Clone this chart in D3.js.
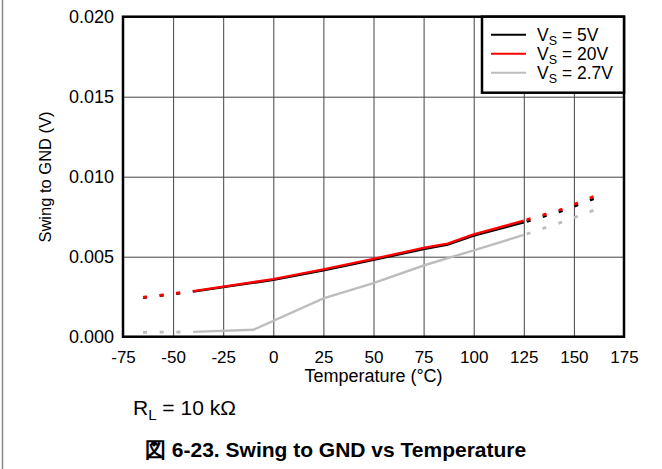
<!DOCTYPE html>
<html>
<head>
<meta charset="utf-8">
<script src="https://cdn.jsdelivr.net/npm/d3@7"></script>
<style>
  body { margin: 0; background: #fff; }
  svg { display: block; font-family: Arial, "Liberation Sans", sans-serif; }
</style>
</head>
<body>
<div id="chart"></div>
<script>
// ---- data ----
const xTicks = [-75, -50, -25, 0, 25, 50, 75, 100, 125, 150, 175];
const yTicks = [0.000, 0.005, 0.010, 0.015, 0.020];

// solid part of each curve (temperature, volts)
const temp5V   = [-40, -25, 0, 25, 50, 75, 87, 100, 125];
const swing5V  = [0.00282, 0.00310, 0.00355, 0.00415, 0.00480, 0.00548, 0.00575, 0.00632, 0.00715];
const temp20V  = [-40, -25, 0, 25, 50, 75, 87, 100, 125];
const swing20V = [0.00285, 0.00313, 0.00360, 0.00421, 0.00486, 0.00555, 0.00582, 0.00640, 0.00725];
const temp27V  = [-40, -10, 25, 50, 75, 100, 125];
const swing27V = [0.00030, 0.00043, 0.00240, 0.00335, 0.00445, 0.00540, 0.00636];

// dotted extrapolation at both ends
const dotTempLo   = [-65, -40];
const dotTempHi   = [125, 145, 162];
const dot5VLo     = [0.00245, 0.00282];
const dot5VHi     = [0.00715, 0.00790, 0.00872];
const dot20VLo    = [0.00246, 0.00285];
const dot20VHi    = [0.00725, 0.00800, 0.00888];
const dot27VLo    = [0.00027, 0.00030];
const dot27VHi    = [0.00636, 0.00720, 0.00800];

const seriesNames  = ['5V', '20V', '2.7V'];
const seriesColors = ['#000000', '#ff0000', '#bdbdbd'];

document.addEventListener('DOMContentLoaded', function() {
    const W = 662, H = 469;
    const left = 123, right = 624, top = 16.7, bottom = 336.7;

    const svg = d3.select('#chart').append('svg')
        .attr('width', W)
        .attr('height', H);

    svg.append('rect').attr('width', W).attr('height', H).attr('fill', '#fff');

    // page frame line on the left
    svg.append('line')
        .attr('x1', 2.5).attr('x2', 2.5).attr('y1', 0).attr('y2', H)
        .attr('stroke', '#888').attr('stroke-width', 1.5);

    const x = d3.scaleLinear().domain([-75, 175]).range([left, right]);
    const y = d3.scaleLinear().domain([0, 0.020]).range([bottom, top]);

    // grid
    const grid = svg.append('g');
    grid.append('g')
        .attr('transform', `translate(0,${bottom})`)
        .call(d3.axisBottom(x).tickValues(xTicks).tickSize(-(bottom - top)).tickFormat(''))
        .call(g => g.select('.domain').remove())
        .call(g => g.selectAll('line').attr('stroke', '#444').attr('stroke-width', 1));
    grid.append('g')
        .attr('transform', `translate(${left},0)`)
        .call(d3.axisLeft(y).tickValues(yTicks).tickSize(-(right - left)).tickFormat(''))
        .call(g => g.select('.domain').remove())
        .call(g => g.selectAll('line').attr('stroke', '#444').attr('stroke-width', 1));

    // tick labels (plain hyphen for negatives, as in the reference)
    const xAxis = svg.append('g')
        .attr('transform', `translate(0,${bottom})`)
        .call(d3.axisBottom(x).tickValues(xTicks).tickSize(0).tickPadding(14).tickFormat(d => String(d)));
    xAxis.select('.domain').remove();
    xAxis.selectAll('text').attr('font-size', 17).attr('font-family', 'Arial, "Liberation Sans", sans-serif').attr('fill', '#000');

    const yAxis = svg.append('g')
        .attr('transform', `translate(${left},0)`)
        .call(d3.axisLeft(y).tickValues(yTicks).tickSize(0).tickPadding(9).tickFormat(d3.format('.3f')));
    yAxis.select('.domain').remove();
    yAxis.selectAll('text').attr('font-size', 18).attr('font-family', 'Arial, "Liberation Sans", sans-serif').attr('fill', '#000');

    // curves
    const line = d3.line().x(d => x(d[0])).y(d => y(d[1]));
    const solid = [d3.zip(temp5V, swing5V), d3.zip(temp20V, swing20V), d3.zip(temp27V, swing27V)];
    const dotLo = [d3.zip(dotTempLo, dot5VLo), d3.zip(dotTempLo, dot20VLo), d3.zip(dotTempLo, dot27VLo)];
    const dotHi = [d3.zip(dotTempHi, dot5VHi), d3.zip(dotTempHi, dot20VHi), d3.zip(dotTempHi, dot27VHi)];

    // draw 2.7V first, then 5V, then 20V on top
    [2, 0, 1].forEach(i => {
        svg.append('path').attr('d', line(solid[i]))
            .attr('fill', 'none').attr('stroke', seriesColors[i]).attr('stroke-width', 2.4);
        svg.append('path').attr('d', line(dotLo[i]))
            .attr('fill', 'none').attr('stroke', seriesColors[i]).attr('stroke-width', 2.8)
            .attr('stroke-dasharray', '4,12.7');
        svg.append('path').attr('d', line(dotHi[i]))
            .attr('fill', 'none').attr('stroke', seriesColors[i]).attr('stroke-width', 2.8)
            .attr('stroke-dasharray', '4,12.7').attr('stroke-dashoffset', 13.7);
    });

    // plot frame
    svg.append('rect')
        .attr('x', left).attr('y', top)
        .attr('width', right - left).attr('height', bottom - top)
        .attr('fill', 'none').attr('stroke', '#000').attr('stroke-width', 2.5);

    // legend
    const lg = svg.append('g');
    lg.append('rect')
        .attr('x', 482).attr('y', top)
        .attr('width', right - 482).attr('height', 76)
        .attr('fill', '#fff').attr('stroke', '#000').attr('stroke-width', 2.5);
    seriesNames.forEach((name, i) => {
        const ly = 34.7 + i * 19;
        lg.append('line')
            .attr('x1', 491).attr('x2', 526).attr('y1', ly).attr('y2', ly)
            .attr('stroke', seriesColors[i]).attr('stroke-width', 2);
        const t = lg.append('text')
            .attr('x', 537).attr('y', ly + 6)
            .attr('font-size', 17.5).attr('fill', '#000');
        t.append('tspan').text('V');
        t.append('tspan').attr('font-size', 12.5).attr('dy', 4).text('S');
        t.append('tspan').attr('dy', -4).text(' = ' + name);
    });

    // axis titles
    svg.append('text')
        .attr('x', (left + right) / 2).attr('y', 382)
        .attr('text-anchor', 'middle').attr('font-size', 18)
        .text('Temperature (°C)');
    svg.append('text')
        .attr('transform', 'translate(51,177) rotate(-90)')
        .attr('text-anchor', 'middle').attr('font-size', 16.5)
        .text('Swing to GND (V)');

    // condition note
    const rl = svg.append('text')
        .attr('x', 133).attr('y', 415)
        .attr('font-size', 21);
    rl.append('tspan').text('R');
    rl.append('tspan').attr('font-size', 15).attr('dy', 5).text('L');
    rl.append('tspan').attr('dy', -5).text(' = 10 kΩ');

    // figure caption
    svg.append('text')
        .attr('x', 145).attr('y', 456.5)
        .attr('font-size', 21).attr('font-weight', 'bold')
        .text('図 6-23. Swing to GND vs Temperature');
});
</script>
</body>
</html>
